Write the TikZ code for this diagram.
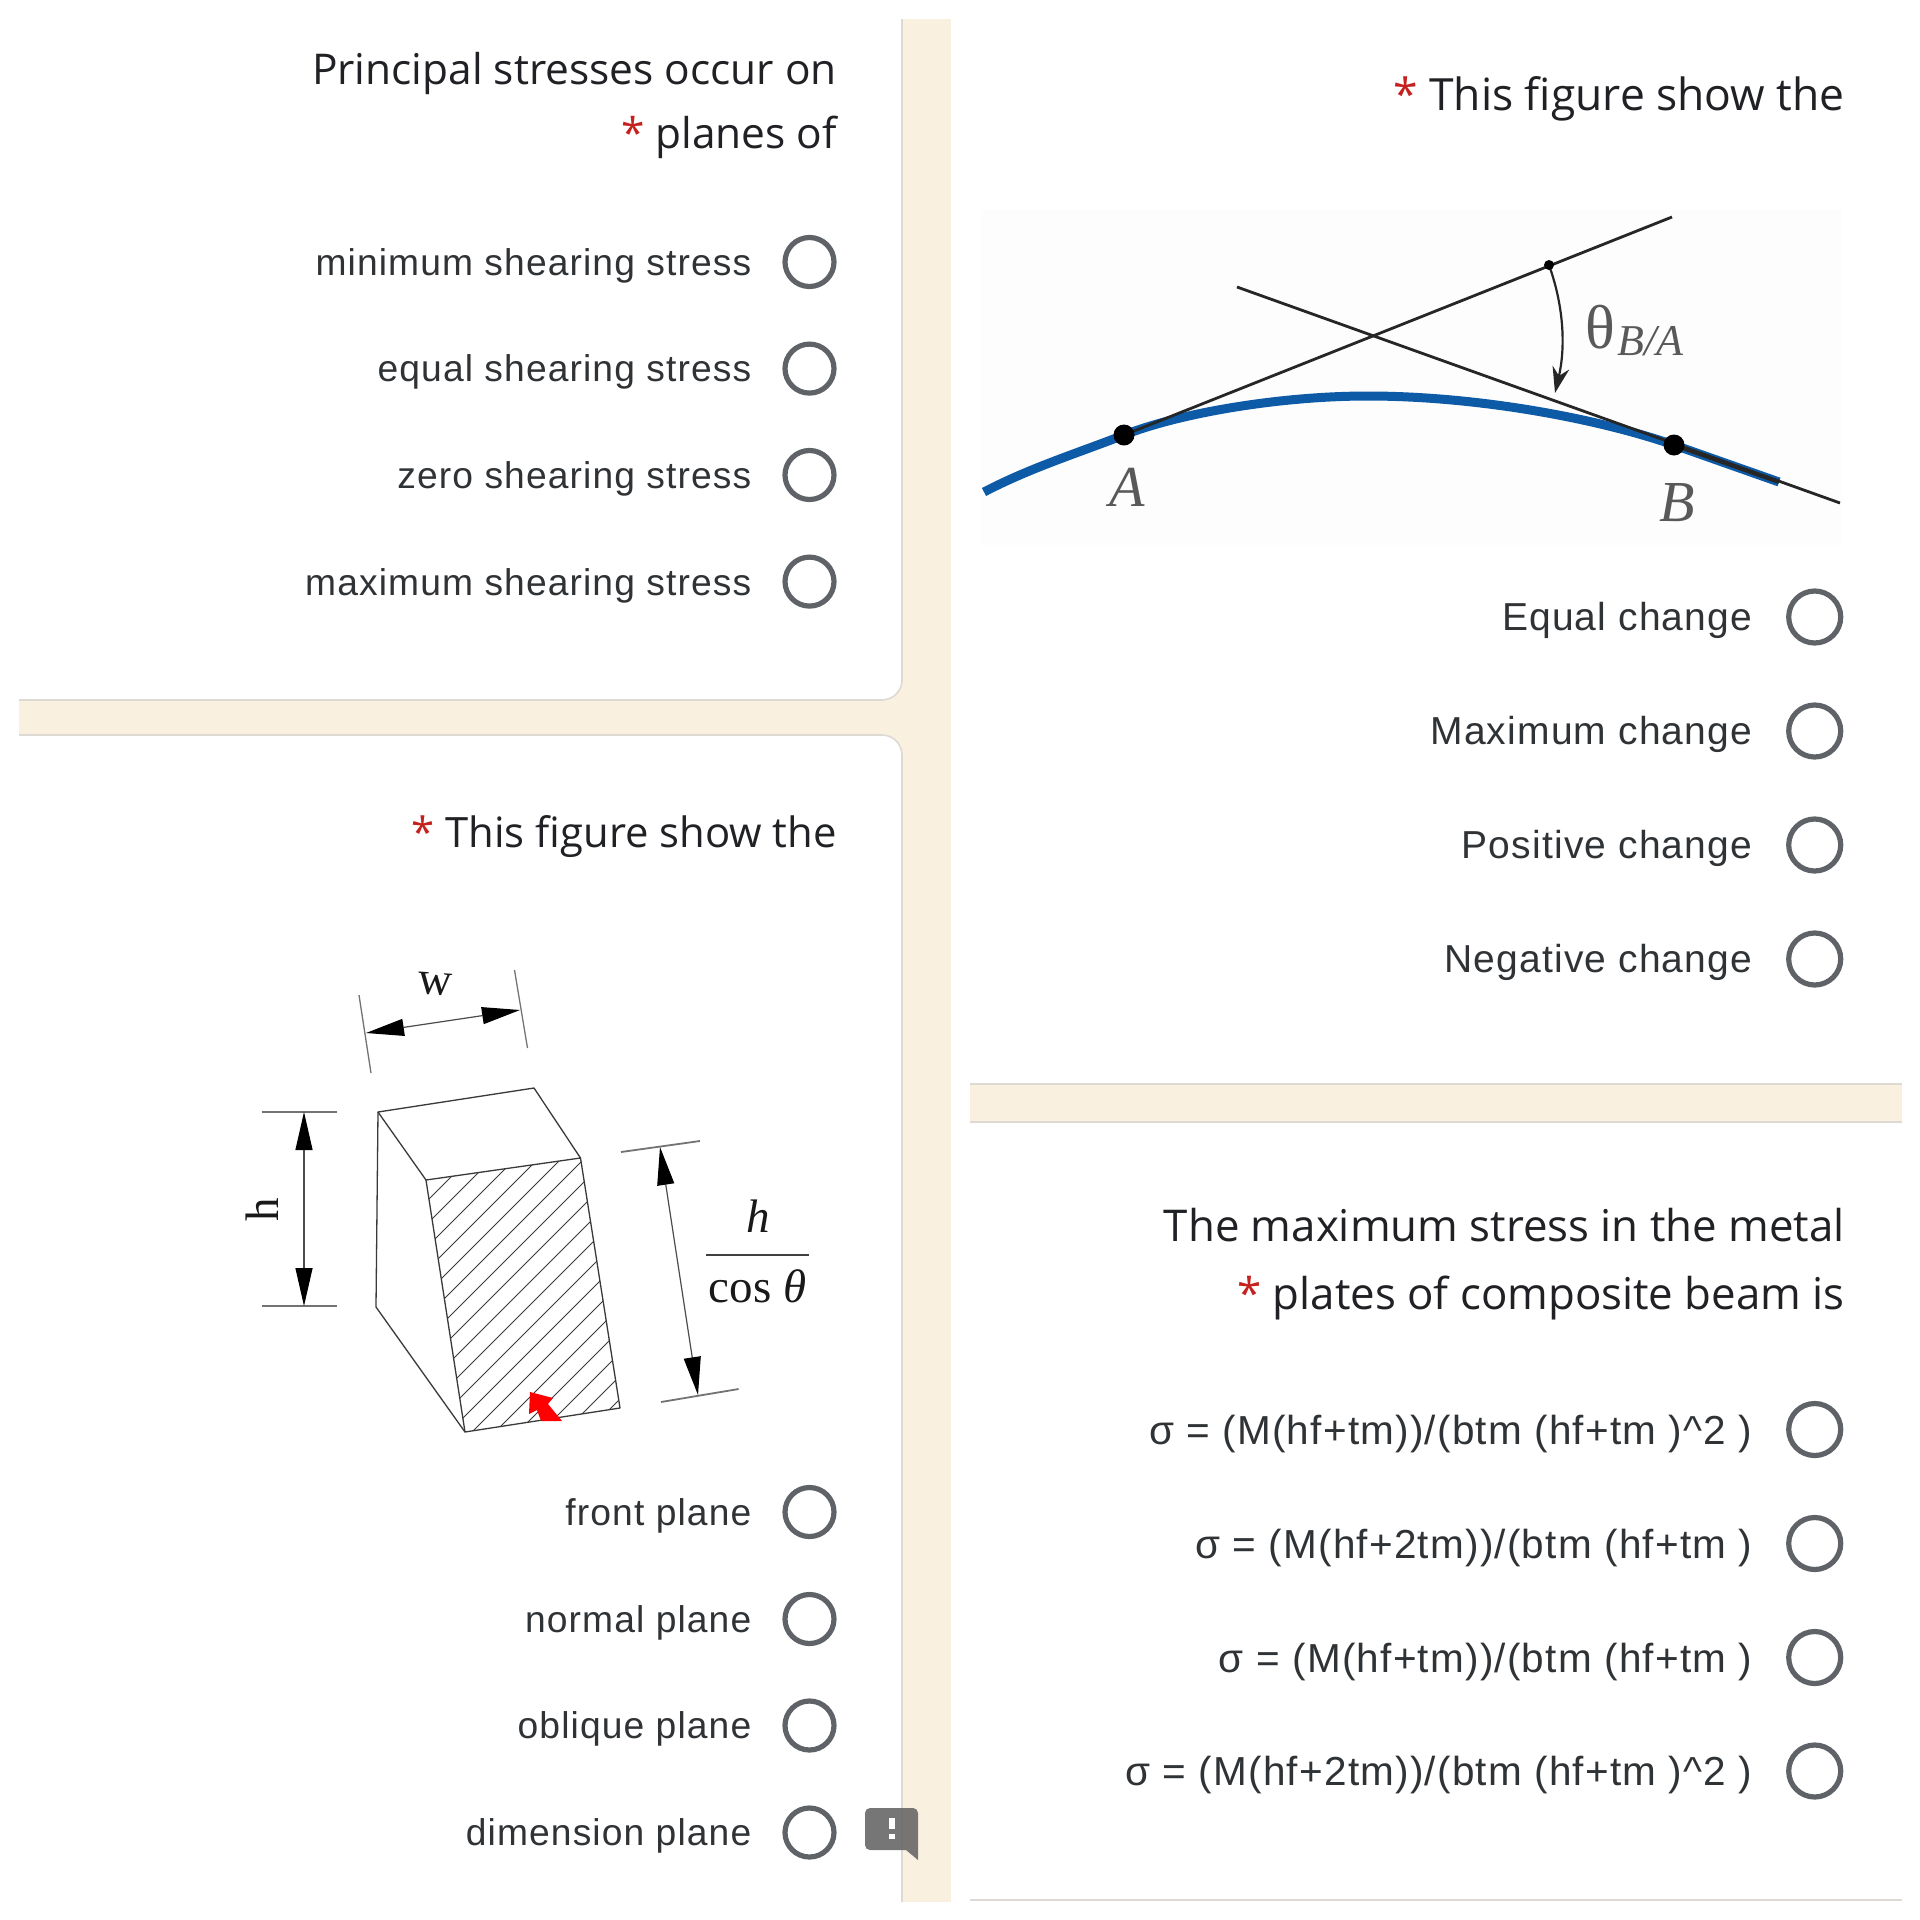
\documentclass[tikz,border=0pt]{standalone}
\usepackage{fontspec}
\setmainfont{Liberation Sans}
\newfontfamily\optfont[LetterSpace=3.0]{Liberation Sans}
\newfontfamily\titlefont{Open Sans}
\newfontfamily\serf{Liberation Serif}
\usetikzlibrary{arrows.meta}
\definecolor{cream}{HTML}{F9F0E0}
\definecolor{edgeg}{HTML}{DDD9D3}
\definecolor{inkt}{HTML}{202124}
\definecolor{inko}{HTML}{303336}
\definecolor{radg}{HTML}{5F6368}
\definecolor{reqr}{HTML}{C5221F}
\definecolor{bluec}{HTML}{0D5AA7}
\definecolor{figl}{HTML}{3A3A3A}
\tikzset{
 radiobtn/.style={circle,draw=radg,line width=5.2pt,minimum size=49pt,inner sep=0pt,fill=white},
 radiobig/.style={radiobtn,minimum size=52pt},
 opttext/.style={anchor=base east,inner sep=0pt,text=inko,font=\optfont\fontsize{37.2}{40}\selectfont},
 optmid/.style={opttext,font=\optfont\fontsize{39}{42}\selectfont},
 optbig/.style={opttext,font=\optfont\fontsize{40.5}{44}\selectfont},
 titlea/.style={anchor=base east,inner sep=0pt,text=inkt,font=\titlefont\fontsize{42.4}{46}\selectfont},
 titleb/.style={titlea,font=\titlefont\fontsize{41.8}{46}\selectfont},
 titlec/.style={titlea,font=\titlefont\fontsize{44.4}{48}\selectfont},
 titled/.style={titlea,font=\titlefont\fontsize{43.8}{48}\selectfont},
 edgeline/.style={draw=edgeg,line width=1.6pt},
 thinfig/.style={draw=figl,line width=1.3pt},
 dimline/.style={draw=black!70,line width=1.2pt,{Triangle[length=38pt,width=17pt,color=black]}-{Triangle[length=38pt,width=17pt,color=black]}},
 tickline/.style={draw=black!55,line width=1.8pt},
 figlabel/.style={inner sep=0pt,text=black!90,font=\serf\fontsize{47}{49}\selectfont},
 greylabel/.style={inner sep=0pt,text=black!65,font=\serf\itshape\fontsize{58}{60}\selectfont},
 tangent/.style={draw=black!85,line width=2.8pt},
 pointdot/.style={circle,fill=black,inner sep=0pt,minimum size=21pt},
}
\newcommand{\req}{{\color{reqr}*}}
\begin{document}
\begin{tikzpicture}[x=1pt,y=-1pt]
\useasboundingbox (0,0) rectangle (1920,1920);
\fill[white] (0,0) rectangle (1920,1920);
% cream gutters
\fill[cream] (902,19) rectangle (951,1902);
\fill[cream] (19,700) rectangle (902,735);
\fill[cream] (882,680) rectangle (902,755);
\fill[cream] (970,1084) rectangle (1902,1122);
% rounded card corners
\fill[white,rounded corners=20pt] (840,640) -- (902,640) -- (902,700) -- (840,700) -- cycle;
\fill[white,rounded corners=20pt] (840,735) -- (902,735) -- (902,795) -- (840,795) -- cycle;
\fill[white] (840,660) rectangle (880,699);
\fill[white] (840,736) rectangle (880,775);
% card edges
\draw[edgeline,rounded corners=20pt] (902,19) -- (902,700) -- (19,700);
\draw[edgeline,rounded corners=20pt] (19,735) -- (902,735) -- (902,1902);
\draw[edgeline] (970,1084) -- (1902,1084);
\draw[edgeline] (970,1122) -- (1902,1122);
\draw[edgeline] (970,1900) -- (1902,1900);
% titles
\node[titlea] (t1a) at (837,84) {Principal stresses occur on};
\node[titlea] (t1b) at (837,148) {\req\ planes of};
\node[titleb] (t2) at (837,847) {\req\ This figure show the};
\node[titlec] (t3) at (1845,110) {\req\ This figure show the};
\node[titled] (t4a) at (1845,1241) {The maximum stress in the metal};
\node[titled] (t4b) at (1845,1309) {\req\ plates of composite beam is};
% options, card 1
\node[radiobtn] (r11) at (809.5,262) {}; \node[opttext] (o11) at (751.5,275) {minimum shearing stress};
\node[radiobtn] (r12) at (809.5,368.6) {}; \node[opttext] (o12) at (751.5,381.6) {equal shearing stress};
\node[radiobtn] (r13) at (809.5,475) {}; \node[opttext] (o13) at (751.5,488) {zero shearing stress};
\node[radiobtn] (r14) at (809.5,581.6) {}; \node[opttext] (o14) at (751.5,595) {maximum shearing stress};
% options, card 2
\node[radiobtn] (r21) at (809.5,1512) {}; \node[opttext] (o21) at (751.5,1525) {front plane};
\node[radiobtn] (r22) at (809.5,1619) {}; \node[opttext] (o22) at (751.5,1632) {normal plane};
\node[radiobtn] (r23) at (809.5,1725.5) {}; \node[opttext] (o23) at (751.5,1738.5) {oblique plane};
\node[radiobtn] (r24) at (809.5,1832.5) {}; \node[opttext] (o24) at (751.5,1845.5) {dimension plane};
% options, card 3
\node[radiobig] (r31) at (1814.7,617) {}; \node[optmid] (o31) at (1752.5,630.5) {Equal change};
\node[radiobig] (r32) at (1814.7,731) {}; \node[optmid] (o32) at (1752.5,744.5) {Maximum change};
\node[radiobig] (r33) at (1814.7,845) {}; \node[optmid] (o33) at (1752.5,858.5) {Positive change};
\node[radiobig] (r34) at (1814.7,959) {}; \node[optmid] (o34) at (1752.5,972) {Negative change};
% options, card 4
\node[radiobig] (r41) at (1814.7,1429.5) {}; \node[optbig] (o41) at (1752.5,1444) {σ = (M(hf+tm))/(btm (hf+tm )\textasciicircum 2 )};
\node[radiobig] (r42) at (1814.7,1543.5) {}; \node[optbig] (o42) at (1752.5,1558) {σ = (M(hf+2tm))/(btm (hf+tm )};
\node[radiobig] (r43) at (1814.7,1657.5) {}; \node[optbig] (o43) at (1752.5,1672) {σ = (M(hf+tm))/(btm (hf+tm )};
\node[radiobig] (r44) at (1814.7,1771) {}; \node[optbig] (o44) at (1752.5,1785.5) {σ = (M(hf+2tm))/(btm (hf+tm )\textasciicircum 2 )};
% feedback icon
\fill[fill=black!58,fill opacity=.92,rounded corners=5pt] (865,1808) -- (918,1808) [sharp corners] -- (918,1860) -- (906,1850) [rounded corners=5pt] -- (865,1850) -- cycle;
\fill[white] (889,1818) rectangle (894.5,1829);
\fill[white] (889,1834) rectangle (894.5,1839);
% prism figure
\coordinate (pa) at (378,1112); \coordinate (pb) at (534,1088); \coordinate (pc) at (580.5,1158);
\coordinate (pd) at (426,1180); \coordinate (pe) at (376,1307); \coordinate (pf) at (465,1432); \coordinate (pg) at (620,1408);
\begin{scope}
\clip (pd) -- (pc) -- (pg) -- (pf) -- cycle;
\foreach \c in {1628,1651,...,2030}{
 \draw[draw=figl,line width=1pt] (\c-1000,1000) -- (\c-1500,1500);
}
\end{scope}
\draw[thinfig,line join=round] (pa) -- (pb) -- (pc) -- (pd) -- cycle;
\draw[thinfig,line join=round] (pa) -- (pe) -- (pf) -- (pg) -- (pc);
\draw[thinfig] (pd) -- (pf);
% red arrow
\fill[red] (530,1392) -- (553,1398) -- (548,1404) -- (562,1421) -- (541,1421) -- (537,1410) -- (529,1414) -- cycle;
% h dimension
\coordinate (ha) at (261.5,1112); \coordinate (hb) at (336.6,1112); \coordinate (hc) at (261.5,1306); \coordinate (hd) at (336.6,1306);
\coordinate (he) at (304,1112); \coordinate (hf) at (304,1306);
\draw[tickline] (ha) -- (hb); \draw[tickline] (hc) -- (hd);
\draw[dimline] (he) -- (hf);
\node[figlabel,rotate=90] (hl) at (262,1210) {h};
% w dimension
\coordinate (wa) at (359,995); \coordinate (wb) at (371,1073); \coordinate (wc) at (514.5,970); \coordinate (wd) at (527.5,1048);
\coordinate (we) at (366,1033); \coordinate (wf) at (520,1010);
\draw[tickline,line width=1.3pt] (wa) -- (wb); \draw[tickline,line width=1.3pt] (wc) -- (wd);
\draw[dimline] (we) -- (wf);
\node[figlabel,rotate=-4] (wl) at (435,984) {w};
% h/cos dimension
\coordinate (ca) at (621,1152); \coordinate (cb) at (700,1141); \coordinate (cc) at (661,1402); \coordinate (cd) at (738.6,1389);
\coordinate (ce) at (660,1147); \coordinate (cf) at (698,1395);
\draw[tickline] (ca) -- (cb); \draw[tickline] (cc) -- (cd);
\draw[dimline] (ce) -- (cf);
\coordinate (fa) at (706,1255); \coordinate (fb) at (809,1255);
\draw[draw=black!75,line width=2.4pt] (fa) -- (fb);
\node[figlabel,font=\serf\itshape\fontsize{47}{49}\selectfont] (fh) at (758,1216) {h};
\node[figlabel] (fc) at (757.5,1286) {cos \textit{θ}};
% slope figure
\fill[black!0.7] (981,210) rectangle (1842,545);
\coordinate (nA) at (1124,435); \coordinate (nB) at (1674,445); \coordinate (nT) at (1368,396);
\coordinate (cs) at (984,492); \coordinate (ce2) at (1779,482);
\coordinate (tu) at (1672,217); \coordinate (ts) at (1237,287); \coordinate (tv) at (1840,503);
\coordinate (ma) at (1549,265); \coordinate (mb) at (1555,393);
\draw[draw=bluec,line width=9pt] (cs) .. controls (1030,468) and (1075,454) .. (nA) .. controls (1180,413) and (1280,396) .. (nT) .. controls (1470,396) and (1590,416) .. (nB) -- (ce2);
\draw[tangent] (nA) -- (tu);
\draw[tangent] (ts) -- (tv);
\draw[draw=black!85,line width=4pt] (nB) -- (ce2);
\draw[draw=black!85,line width=2.2pt,-{Stealth[length=26pt,width=17pt]}] (ma) .. controls (1565,310) and (1565,350) .. (mb);
\fill[black] (ma) circle (5pt);
\node[pointdot] (dA) at (nA) {};
\node[pointdot] (dB) at (nB) {};
\node[greylabel] (lA) at (1127,487) {A};
\node[greylabel] (lB) at (1677,503) {B};
\node[greylabel,anchor=west,font=\serf\fontsize{62}{64}\selectfont] (lT) at (1585,327) {θ};
\node[greylabel,anchor=west,font=\serf\itshape\fontsize{44}{46}\selectfont] (lS) at (1617,341) {B/A};
\end{tikzpicture}
\end{document}
